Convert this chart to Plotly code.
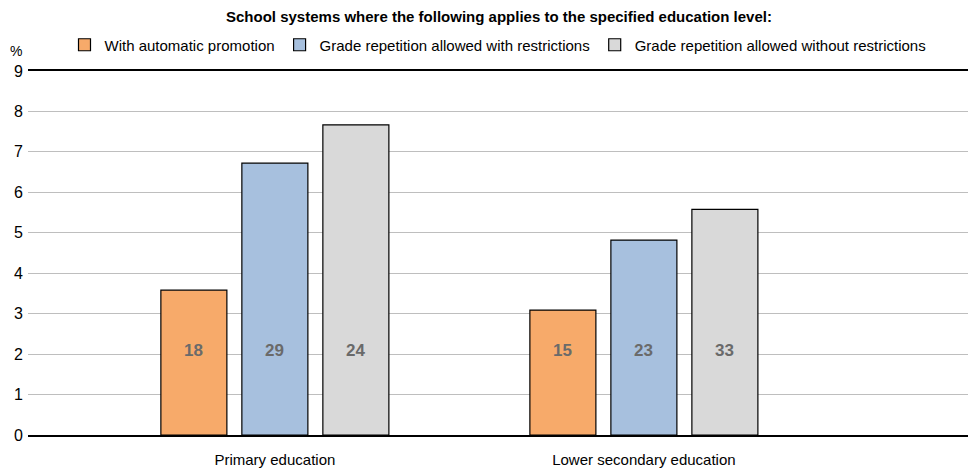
import plotly.graph_objects as go

categories = ["Primary education", "Lower secondary education"]
series_names = ["With automatic promotion",
                "Grade repetition allowed with restrictions",
                "Grade repetition allowed without restrictions"]
auto_promotion = [3.58, 3.09]
rep_with_restr = [6.72, 4.82]
rep_without_restr = [7.67, 5.58]
counts_auto = [18, 15]
counts_with = [29, 23]
counts_without = [24, 33]
y_ticks = [0, 1, 2, 3, 4, 5, 6, 7, 8, 9]

colors = ["#F7AA6A", "#A7C0DE", "#D9D9D9"]
values = [auto_promotion, rep_with_restr, rep_without_restr]
counts = [counts_auto, counts_with, counts_without]

FONT = "Liberation Sans, Arial, sans-serif"
W, H = 968, 463  # page body has an 8px margin

fig = go.Figure()
for name, vals, col in zip(series_names, values, colors):
    fig.add_trace(go.Bar(
        x=categories, y=vals, name=name,
        marker=dict(color=col, line=dict(color="#000000", width=1.2)),
    ))

annotations = []
offsets = [-81, 0, 81]
for cnt, off in zip(counts, offsets):
    for cat, c in zip(categories, cnt):
        annotations.append(dict(
            x=cat, y=2.1, xref="x", yref="y", text="<b>%d</b>" % c, showarrow=False,
            xshift=off, font=dict(family=FONT, size=17, color="#6a6a6a"),
        ))
annotations.append(dict(
    x=0, y=1, xref="paper", yref="paper", text="%", showarrow=False,
    xanchor="right", yanchor="bottom", xshift=-4, yshift=10,
    font=dict(family=FONT, size=14, color="#000000"),
))

fig.update_layout(
    width=W, height=H,
    margin=dict(l=20, r=0, t=63, b=36, autoexpand=False),
    paper_bgcolor="white", plot_bgcolor="white",
    barmode="group", bargap=0.3415, bargroupgap=0.185,
    title=dict(text="<b>School systems where the following applies to the specified education level:</b>",
               x=491 / W, xanchor="center", xref="container",
               y=1 - 9 / H, yanchor="middle", yref="container",
               font=dict(family=FONT, size=15, color="#000000")),
    legend=dict(orientation="h", x=490 / W, xanchor="center", xref="container",
                y=1 - 37 / H, yanchor="middle", yref="container",
                font=dict(family=FONT, size=15, color="#000000"),
                traceorder="normal", itemwidth=30),
    xaxis=dict(range=[-0.669, 1.9], showline=True, mirror=True, linecolor="#000000",
               linewidth=2, ticks="", ticklabelstandoff=10,
               tickfont=dict(family=FONT, size=15, color="#000000"),
               showgrid=False),
    yaxis=dict(range=[0, 9], tickvals=y_ticks, showgrid=True, gridcolor="#BEBEBE",
               gridwidth=1, zeroline=False, showline=False, ticks="",
               ticklabelstandoff=4,
               tickfont=dict(family=FONT, size=16, color="#000000")),
    annotations=annotations,
    showlegend=True,
)

fig.write_html("out.html")
